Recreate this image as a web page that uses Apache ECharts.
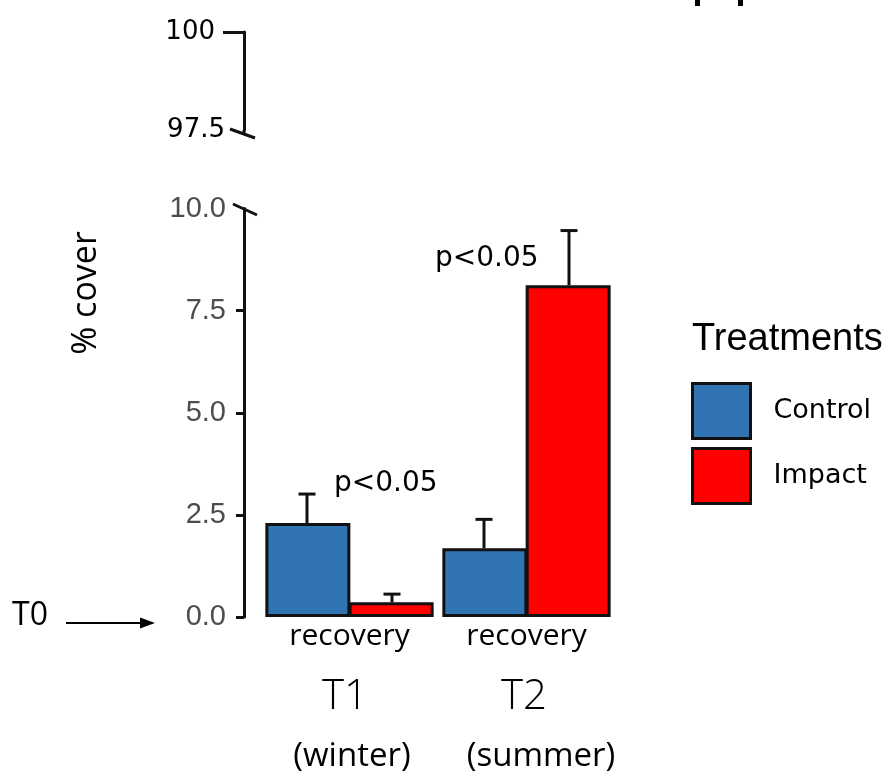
<!DOCTYPE html>
<html>
<head>
<meta charset="utf-8">
<script src="https://cdn.jsdelivr.net/npm/echarts@6/dist/echarts.min.js"></script>
<style>html,body{margin:0;padding:0;background:#fff;}#c{width:889px;height:773px;}</style>
</head>
<body>
<div id="c"></div>
<script>
// ---- data ----
const categories = ['recovery', 'recovery'];
const periods = ['T1', 'T2'];
const seasons = ['(winter)', '(summer)'];
const seriesNames = ['Control', 'Impact'];
const controlMean = [2.30, 1.68];
const controlUpper = [3.01, 2.39];
const impactMean = [0.36, 8.12];
const impactUpper = [0.56, 9.46];
const lowerTickValues = [0, 2.5, 5, 7.5];
const upperLabelValues = [97.5, 100];
const upperTickValues = [100];
const annotations = ['p<0.05', 'p<0.05'];
const legendTitle = 'Treatments';
const yTitle = '% cover';
const baselineLabel = 'T0';

// ---- style ----
const BLUE = '#3174B4', RED = '#FF0000', INK = '#111111';
const BAR_W = 85;
const LW = 3;

const chart = echarts.init(document.getElementById('c'), null, {renderer: 'canvas'});

function errorSeries(name, means, uppers, sign) {
  return {
    type: 'custom', name: name, xAxisIndex: 0, yAxisIndex: 0, z: 5,
    data: means.map((m, i) => [i, m, uppers[i]]),
    encode: {x: 0, y: [1, 2]},
    renderItem: function (params, api) {
      const i = api.value(0);
      const b = api.coord([i, api.value(1)]);
      const t = api.coord([i, api.value(2)]);
      const x = b[0] + sign * BAR_W / 2;
      const st = {stroke: INK, lineWidth: LW};
      return {type: 'group', children: [
        {type: 'line', shape: {x1: x, y1: b[1], x2: x, y2: t[1]}, style: st},
        {type: 'line', shape: {x1: x - 8.5, y1: t[1], x2: x + 8.5, y2: t[1]}, style: st}
      ]};
    }
  };
}

const option = {
  animation: false,
  backgroundColor: '#ffffff',
  grid: [
    {left: 261, top: 208.5, width: 354, height: 408.5},
    {left: 261, top: 32, width: 354, height: 98}
  ],
  xAxis: [
    {type: 'category', gridIndex: 0, data: categories,
     axisLine: {show: false}, axisTick: {show: false},
     axisLabel: {color: '#000', fontSize: 30, fontFamily: 'Open Sans', margin: 4}},
    {type: 'category', gridIndex: 1, data: categories, show: false}
  ],
  yAxis: [
    {type: 'value', gridIndex: 0, min: 0, max: 10, interval: 2.5, offset: 17,
     splitLine: {show: false},
     axisLine: {show: true, lineStyle: {color: INK, width: LW}},
     axisTick: {show: true, length: 8, customValues: lowerTickValues, lineStyle: {color: INK, width: LW}},
     axisLabel: {color: '#4D4D4D', fontSize: 29, fontFamily: 'Liberation Sans', margin: 18,
                 formatter: v => v.toFixed(1)}},
    {type: 'value', gridIndex: 1, min: 97.5, max: 100, interval: 2.5, offset: 17,
     splitLine: {show: false},
     axisLine: {show: true, lineStyle: {color: INK, width: LW}},
     axisTick: {show: true, length: 21, customValues: upperTickValues, lineStyle: {color: INK, width: LW}},
     axisLabel: {color: '#000', fontSize: 26, fontFamily: 'DejaVu Sans', margin: 19,
                 customValues: upperLabelValues,
                 formatter: v => (v === 100 ? '{p|100}' : String(v)),
                 rich: {p: {color: '#000', fontSize: 26, fontFamily: 'DejaVu Sans', padding: [0, 10, 0, 0]}}}}
  ],
  legend: {
    data: seriesNames, orient: 'vertical', left: 691, top: 382, padding: 0,
    itemWidth: 58, itemHeight: 55, itemGap: 7, icon: 'rect',
    itemStyle: {borderColor: INK, borderWidth: LW},
    textStyle: {color: '#000', fontSize: 27, fontFamily: 'DejaVu Sans', padding: [4, 0, 0, 18]}
  },
  series: [
    {type: 'bar', name: seriesNames[0], xAxisIndex: 0, yAxisIndex: 0, data: controlMean,
     barWidth: BAR_W, barGap: '-2%',
     itemStyle: {color: BLUE, borderColor: INK, borderWidth: LW}},
    {type: 'bar', name: seriesNames[1], xAxisIndex: 0, yAxisIndex: 0, data: impactMean,
     barWidth: BAR_W, barGap: '-2%',
     itemStyle: {color: RED, borderColor: INK, borderWidth: LW}},
    errorSeries('Control error', controlMean, controlUpper, -1),
    errorSeries('Impact error', impactMean, impactUpper, 1)
  ],
  graphic: [
    {type: 'text', left: 692, top: 321, style: {text: legendTitle, fill: '#000', font: '38px "Liberation Sans"'}},
    {type: 'text', x: 86, y: 293, rotation: Math.PI / 2,
     style: {text: yTitle, fill: '#000', font: '34px "Open Sans"', align: 'center', verticalAlign: 'middle'}},
    {type: 'text', x: 12, y: 616, style: {text: baselineLabel, fill: '#000', font: '32px "Open Sans"', align: 'left', verticalAlign: 'middle'}},
    {type: 'line', shape: {x1: 66, y1: 623, x2: 142, y2: 623}, style: {stroke: '#000', lineWidth: 2}},
    {type: 'polygon', shape: {points: [[140, 617.5], [155, 623], [140, 628.5]]}, style: {fill: '#000'}},
    {type: 'text', x: 345, y: 697, style: {text: periods[0], fill: '#000', font: '300 42px "Open Sans"', align: 'center', verticalAlign: 'middle'}},
    {type: 'text', x: 524, y: 697, style: {text: periods[1], fill: '#000', font: '300 42px "Open Sans"', align: 'center', verticalAlign: 'middle'}},
    {type: 'text', x: 352, y: 757, style: {text: seasons[0], fill: '#000', font: '33px "Open Sans"', align: 'center', verticalAlign: 'middle'}},
    {type: 'text', x: 541, y: 757, style: {text: seasons[1], fill: '#000', font: '33px "Open Sans"', align: 'center', verticalAlign: 'middle'}},
    {type: 'text', x: 334, y: 484, style: {text: annotations[0], fill: '#000', font: '28px "DejaVu Sans"', align: 'left', verticalAlign: 'middle'}},
    {type: 'text', x: 435, y: 259, style: {text: annotations[1], fill: '#000', font: '28px "DejaVu Sans"', align: 'left', verticalAlign: 'middle'}},
    {type: 'line', shape: {x1: 244, y1: 130, x2: 244, y2: 134.5}, style: {stroke: INK, lineWidth: LW}},
    {type: 'line', shape: {x1: 230, y1: 129, x2: 255, y2: 138}, style: {stroke: INK, lineWidth: LW}},
    {type: 'line', shape: {x1: 233, y1: 204, x2: 257, y2: 215}, style: {stroke: INK, lineWidth: LW}},
    {type: 'rect', shape: {x: 695, y: 0, width: 5, height: 6}, style: {fill: '#000'}},
    {type: 'rect', shape: {x: 738, y: 0, width: 5, height: 6}, style: {fill: '#000'}}
  ]
};
chart.setOption(option);
</script>
</body>
</html>
